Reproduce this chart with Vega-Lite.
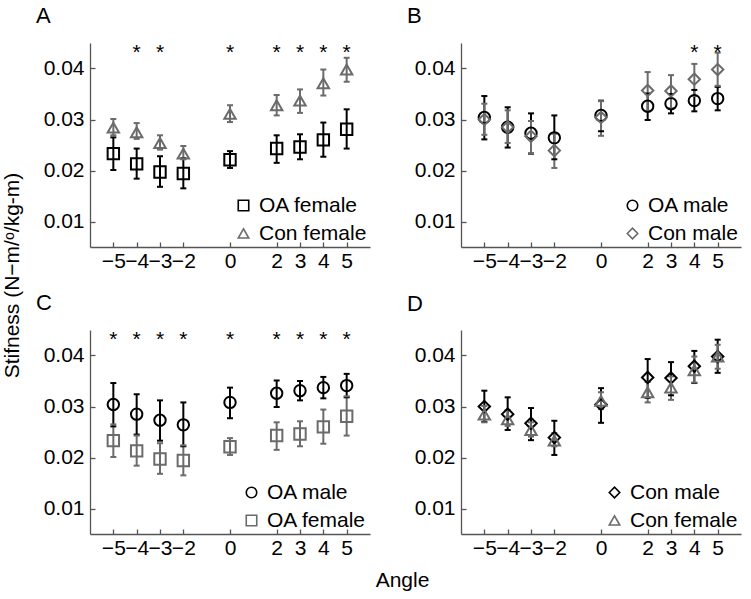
{
  "$schema": "https://vega.github.io/schema/vega-lite/v6.json",
  "padding": {"left": 1, "top": 5, "right": 5, "bottom": 5},
  "background": "white",
  "config": {
    "font": "Liberation Sans",
    "view": {"stroke": null},
    "axis": {
      "grid": false,
      "domainColor": "#555555",
      "tickColor": "#555555",
      "domainWidth": 1.3,
      "tickWidth": 1.3,
      "tickSize": -5,
      "labelFont": "Liberation Sans",
      "labelFontSize": 21,
      "labelColor": "#000000",
      "titleFont": "Liberation Sans",
      "titleFontSize": 21,
      "titleFontWeight": "normal",
      "titleColor": "#000000"
    },
    "axisX": {"labelPadding": 8, "labelOverlap": false, "labelFlush": false},
    "axisY": {"labelPadding": 11, "labelOverlap": false},
    "legend": {
      "orient": "bottom-right",
      "offset": 3,
      "padding": 0,
      "labelFont": "Liberation Sans",
      "labelFontSize": 21,
      "labelColor": "#000000",
      "labelOffset": 5,
      "symbolStrokeWidth": 1.6,
      "symbolSize": 110,
      "rowPadding": 6
    },
    "title": {"fontSize": 22, "fontWeight": "normal", "anchor": "start", "frame": "group", "offset": 14, "color": "#000000", "font": "Liberation Sans"}
  },
  "datasets": {
    "stiff": [
      {"group": "OA male", "angle": -5, "mean": 0.0304, "lo": 0.0261, "hi": 0.0346},
      {"group": "OA male", "angle": -4, "mean": 0.0285, "lo": 0.0245, "hi": 0.0324},
      {"group": "OA male", "angle": -3, "mean": 0.0273, "lo": 0.0233, "hi": 0.0312},
      {"group": "OA male", "angle": -2, "mean": 0.0264, "lo": 0.0222, "hi": 0.0308},
      {"group": "OA male", "angle": 0, "mean": 0.0308, "lo": 0.0277, "hi": 0.0337},
      {"group": "OA male", "angle": 2, "mean": 0.0326, "lo": 0.0299, "hi": 0.0351},
      {"group": "OA male", "angle": 3, "mean": 0.0331, "lo": 0.0312, "hi": 0.0350},
      {"group": "OA male", "angle": 4, "mean": 0.0337, "lo": 0.0316, "hi": 0.0358},
      {"group": "OA male", "angle": 5, "mean": 0.0341, "lo": 0.0318, "hi": 0.0364},
      {"group": "Con male", "angle": -5, "mean": 0.0300, "lo": 0.0270, "hi": 0.0331},
      {"group": "Con male", "angle": -4, "mean": 0.0285, "lo": 0.0254, "hi": 0.0318},
      {"group": "Con male", "angle": -3, "mean": 0.0267, "lo": 0.0234, "hi": 0.0297},
      {"group": "Con male", "angle": -2, "mean": 0.0239, "lo": 0.0205, "hi": 0.0272},
      {"group": "Con male", "angle": 0, "mean": 0.0304, "lo": 0.0268, "hi": 0.0336},
      {"group": "Con male", "angle": 2, "mean": 0.0357, "lo": 0.0317, "hi": 0.0393},
      {"group": "Con male", "angle": 3, "mean": 0.0356, "lo": 0.0322, "hi": 0.0387},
      {"group": "Con male", "angle": 4, "mean": 0.0379, "lo": 0.0346, "hi": 0.0409},
      {"group": "Con male", "angle": 5, "mean": 0.0398, "lo": 0.0366, "hi": 0.0431},
      {"group": "OA female", "angle": -5, "mean": 0.0233, "lo": 0.0201, "hi": 0.0265},
      {"group": "OA female", "angle": -4, "mean": 0.0213, "lo": 0.0184, "hi": 0.0243},
      {"group": "OA female", "angle": -3, "mean": 0.0197, "lo": 0.0168, "hi": 0.0228},
      {"group": "OA female", "angle": -2, "mean": 0.0194, "lo": 0.0165, "hi": 0.0224},
      {"group": "OA female", "angle": 0, "mean": 0.0221, "lo": 0.0205, "hi": 0.0238},
      {"group": "OA female", "angle": 2, "mean": 0.0243, "lo": 0.0215, "hi": 0.0269},
      {"group": "OA female", "angle": 3, "mean": 0.0246, "lo": 0.0222, "hi": 0.0271},
      {"group": "OA female", "angle": 4, "mean": 0.0260, "lo": 0.0227, "hi": 0.0294},
      {"group": "OA female", "angle": 5, "mean": 0.0281, "lo": 0.0243, "hi": 0.0320},
      {"group": "Con female", "angle": -5, "mean": 0.0284, "lo": 0.0269, "hi": 0.0301},
      {"group": "Con female", "angle": -4, "mean": 0.0275, "lo": 0.0262, "hi": 0.0293},
      {"group": "Con female", "angle": -3, "mean": 0.0254, "lo": 0.0241, "hi": 0.0269},
      {"group": "Con female", "angle": -2, "mean": 0.0233, "lo": 0.0222, "hi": 0.0248},
      {"group": "Con female", "angle": 0, "mean": 0.0311, "lo": 0.0295, "hi": 0.0328},
      {"group": "Con female", "angle": 2, "mean": 0.0328, "lo": 0.0308, "hi": 0.0348},
      {"group": "Con female", "angle": 3, "mean": 0.0337, "lo": 0.0313, "hi": 0.0359},
      {"group": "Con female", "angle": 4, "mean": 0.0371, "lo": 0.0347, "hi": 0.0398},
      {"group": "Con female", "angle": 5, "mean": 0.0398, "lo": 0.0374, "hi": 0.0421}
    ],
    "stars": [
      {"panel": "A", "angle": -4}, {"panel": "A", "angle": -3}, {"panel": "A", "angle": 0},
      {"panel": "A", "angle": 2}, {"panel": "A", "angle": 3}, {"panel": "A", "angle": 4}, {"panel": "A", "angle": 5},
      {"panel": "B", "angle": 4}, {"panel": "B", "angle": 5},
      {"panel": "C", "angle": -5}, {"panel": "C", "angle": -4}, {"panel": "C", "angle": -3}, {"panel": "C", "angle": -2},
      {"panel": "C", "angle": 0}, {"panel": "C", "angle": 2}, {"panel": "C", "angle": 3}, {"panel": "C", "angle": 4}, {"panel": "C", "angle": 5}
    ]
  },
  "bounds": "flush",
  "columns": 2,
  "spacing": {"row": 83, "column": 91},
  "resolve": {
    "scale": {"color": "independent", "shape": "independent", "stroke": "independent", "x": "independent", "y": "independent"},
    "legend": {"color": "independent", "shape": "independent", "stroke": "independent"}
  },
  "concat": [
    {
      "width": 280, "height": 204,
      "title": {"text": "A", "dx": -54},
      "data": {"name": "stiff"},
      "transform": [{"filter": {"field": "group", "oneOf": ["OA female", "Con female"]}}],
      "layer": [
        {
          "mark": {"type": "rule", "strokeWidth": 2},
          "encoding": {
            "x": {"field": "angle", "type": "quantitative", "scale": {"domain": [-6, 6], "nice": false}, "axis": {"title": null, "values": [-5, -4, -3, -2, 0, 2, 3, 4, 5]}},
            "y": {"field": "lo", "type": "quantitative", "scale": {"domain": [0.005, 0.045], "nice": false, "zero": false}, "axis": {"title": "Stifness (N−m/ᵒ/kg-m)", "values": [0.01, 0.02, 0.03, 0.04], "format": ".2f", "titleX": -68, "titleY": 232}},
            "y2": {"field": "hi"},
            "stroke": {"field": "group", "type": "nominal", "scale": {"domain": ["Con female", "OA female"], "range": ["#6b6b6b", "#000000"]}, "legend": null}
          }
        },
        {
          "transform": [{"fold": ["lo", "hi"], "as": ["end", "val"]}],
          "mark": {"type": "point", "shape": "stroke", "filled": false, "size": 36, "strokeWidth": 2, "opacity": 1},
          "encoding": {
            "x": {"field": "angle", "type": "quantitative", "scale": {"domain": [-6, 6], "nice": false}, "axis": {"title": null, "values": [-5, -4, -3, -2, 0, 2, 3, 4, 5]}},
            "y": {"field": "val", "type": "quantitative", "scale": {"domain": [0.005, 0.045], "nice": false, "zero": false}, "axis": {"title": "Stifness (N−m/ᵒ/kg-m)", "values": [0.01, 0.02, 0.03, 0.04], "format": ".2f", "titleX": -68, "titleY": 232}},
            "stroke": {"field": "group", "type": "nominal", "scale": {"domain": ["Con female", "OA female"], "range": ["#6b6b6b", "#000000"]}, "legend": null}
          }
        },
        {
          "mark": {"type": "point", "filled": false, "strokeWidth": 2, "size": 130, "opacity": 1},
          "encoding": {
            "x": {"field": "angle", "type": "quantitative", "scale": {"domain": [-6, 6], "nice": false}, "axis": {"title": null, "values": [-5, -4, -3, -2, 0, 2, 3, 4, 5]}},
            "y": {"field": "mean", "type": "quantitative", "scale": {"domain": [0.005, 0.045], "nice": false, "zero": false}, "axis": {"title": "Stifness (N−m/ᵒ/kg-m)", "values": [0.01, 0.02, 0.03, 0.04], "format": ".2f", "titleX": -68, "titleY": 232}},
            "color": {"field": "group", "type": "nominal", "scale": {"domain": ["OA female", "Con female"], "range": ["#000000", "#6b6b6b"]}, "legend": {"title": null}},
            "shape": {"field": "group", "type": "nominal", "scale": {"domain": ["OA female", "Con female"], "range": ["square", "triangle-up"]}, "legend": {"title": null}}
          }
        },
        {
          "data": {"name": "stars"},
          "transform": [{"filter": {"field": "panel", "equal": "A"}}],
          "mark": {"type": "text", "text": "*", "fontSize": 21, "baseline": "middle", "align": "center", "color": "#000000"},
          "encoding": {
            "x": {"field": "angle", "type": "quantitative", "scale": {"domain": [-6, 6], "nice": false}, "axis": {"title": null, "values": [-5, -4, -3, -2, 0, 2, 3, 4, 5]}},
            "y": {"datum": 0.043, "type": "quantitative", "axis": {"title": "Stifness (N−m/ᵒ/kg-m)", "values": [0.01, 0.02, 0.03, 0.04], "format": ".2f", "titleX": -68, "titleY": 232}}
          }
        }
      ]
    },
    {
      "width": 280, "height": 204,
      "title": {"text": "B", "dx": -54},
      "data": {"name": "stiff"},
      "transform": [{"filter": {"field": "group", "oneOf": ["OA male", "Con male"]}}],
      "layer": [
        {
          "mark": {"type": "rule", "strokeWidth": 2},
          "encoding": {
            "x": {"field": "angle", "type": "quantitative", "scale": {"domain": [-6, 6], "nice": false}, "axis": {"title": null, "values": [-5, -4, -3, -2, 0, 2, 3, 4, 5]}},
            "y": {"field": "lo", "type": "quantitative", "scale": {"domain": [0.005, 0.045], "nice": false, "zero": false}, "axis": {"title": null, "values": [0.01, 0.02, 0.03, 0.04], "format": ".2f"}},
            "y2": {"field": "hi"},
            "stroke": {"field": "group", "type": "nominal", "scale": {"domain": ["Con male", "OA male"], "range": ["#6b6b6b", "#000000"]}, "legend": null}
          }
        },
        {
          "transform": [{"fold": ["lo", "hi"], "as": ["end", "val"]}],
          "mark": {"type": "point", "shape": "stroke", "filled": false, "size": 36, "strokeWidth": 2, "opacity": 1},
          "encoding": {
            "x": {"field": "angle", "type": "quantitative", "scale": {"domain": [-6, 6], "nice": false}, "axis": {"title": null, "values": [-5, -4, -3, -2, 0, 2, 3, 4, 5]}},
            "y": {"field": "val", "type": "quantitative", "scale": {"domain": [0.005, 0.045], "nice": false, "zero": false}, "axis": {"title": null, "values": [0.01, 0.02, 0.03, 0.04], "format": ".2f"}},
            "stroke": {"field": "group", "type": "nominal", "scale": {"domain": ["Con male", "OA male"], "range": ["#6b6b6b", "#000000"]}, "legend": null}
          }
        },
        {
          "mark": {"type": "point", "filled": false, "strokeWidth": 2, "size": 130, "opacity": 1},
          "encoding": {
            "x": {"field": "angle", "type": "quantitative", "scale": {"domain": [-6, 6], "nice": false}, "axis": {"title": null, "values": [-5, -4, -3, -2, 0, 2, 3, 4, 5]}},
            "y": {"field": "mean", "type": "quantitative", "scale": {"domain": [0.005, 0.045], "nice": false, "zero": false}, "axis": {"title": null, "values": [0.01, 0.02, 0.03, 0.04], "format": ".2f"}},
            "color": {"field": "group", "type": "nominal", "scale": {"domain": ["OA male", "Con male"], "range": ["#000000", "#6b6b6b"]}, "legend": {"title": null}},
            "shape": {"field": "group", "type": "nominal", "scale": {"domain": ["OA male", "Con male"], "range": ["circle", "diamond"]}, "legend": {"title": null}}
          }
        },
        {
          "data": {"name": "stars"},
          "transform": [{"filter": {"field": "panel", "equal": "B"}}],
          "mark": {"type": "text", "text": "*", "fontSize": 21, "baseline": "middle", "align": "center", "color": "#000000"},
          "encoding": {
            "x": {"field": "angle", "type": "quantitative", "scale": {"domain": [-6, 6], "nice": false}, "axis": {"title": null, "values": [-5, -4, -3, -2, 0, 2, 3, 4, 5]}},
            "y": {"datum": 0.043, "type": "quantitative", "axis": {"title": null, "values": [0.01, 0.02, 0.03, 0.04], "format": ".2f"}}
          }
        }
      ]
    },
    {
      "width": 280, "height": 204,
      "title": {"text": "C", "dx": -54},
      "data": {"name": "stiff"},
      "transform": [{"filter": {"field": "group", "oneOf": ["OA male", "OA female"]}}],
      "layer": [
        {
          "mark": {"type": "rule", "strokeWidth": 2},
          "encoding": {
            "x": {"field": "angle", "type": "quantitative", "scale": {"domain": [-6, 6], "nice": false}, "axis": {"title": "Angle", "values": [-5, -4, -3, -2, 0, 2, 3, 4, 5], "titleX": 312, "titleY": 52, "titleBaseline": "alphabetic"}},
            "y": {"field": "lo", "type": "quantitative", "scale": {"domain": [0.005, 0.045], "nice": false, "zero": false}, "axis": {"title": null, "values": [0.01, 0.02, 0.03, 0.04], "format": ".2f"}},
            "y2": {"field": "hi"},
            "stroke": {"field": "group", "type": "nominal", "scale": {"domain": ["OA female", "OA male"], "range": ["#6b6b6b", "#000000"]}, "legend": null}
          }
        },
        {
          "transform": [{"fold": ["lo", "hi"], "as": ["end", "val"]}],
          "mark": {"type": "point", "shape": "stroke", "filled": false, "size": 36, "strokeWidth": 2, "opacity": 1},
          "encoding": {
            "x": {"field": "angle", "type": "quantitative", "scale": {"domain": [-6, 6], "nice": false}, "axis": {"title": "Angle", "values": [-5, -4, -3, -2, 0, 2, 3, 4, 5], "titleX": 312, "titleY": 52, "titleBaseline": "alphabetic"}},
            "y": {"field": "val", "type": "quantitative", "scale": {"domain": [0.005, 0.045], "nice": false, "zero": false}, "axis": {"title": null, "values": [0.01, 0.02, 0.03, 0.04], "format": ".2f"}},
            "stroke": {"field": "group", "type": "nominal", "scale": {"domain": ["OA female", "OA male"], "range": ["#6b6b6b", "#000000"]}, "legend": null}
          }
        },
        {
          "mark": {"type": "point", "filled": false, "strokeWidth": 2, "size": 130, "opacity": 1},
          "encoding": {
            "x": {"field": "angle", "type": "quantitative", "scale": {"domain": [-6, 6], "nice": false}, "axis": {"title": "Angle", "values": [-5, -4, -3, -2, 0, 2, 3, 4, 5], "titleX": 312, "titleY": 52, "titleBaseline": "alphabetic"}},
            "y": {"field": "mean", "type": "quantitative", "scale": {"domain": [0.005, 0.045], "nice": false, "zero": false}, "axis": {"title": null, "values": [0.01, 0.02, 0.03, 0.04], "format": ".2f"}},
            "color": {"field": "group", "type": "nominal", "scale": {"domain": ["OA male", "OA female"], "range": ["#000000", "#6b6b6b"]}, "legend": {"title": null}},
            "shape": {"field": "group", "type": "nominal", "scale": {"domain": ["OA male", "OA female"], "range": ["circle", "square"]}, "legend": {"title": null}}
          }
        },
        {
          "data": {"name": "stars"},
          "transform": [{"filter": {"field": "panel", "equal": "C"}}],
          "mark": {"type": "text", "text": "*", "fontSize": 21, "baseline": "middle", "align": "center", "color": "#000000"},
          "encoding": {
            "x": {"field": "angle", "type": "quantitative", "scale": {"domain": [-6, 6], "nice": false}, "axis": {"title": "Angle", "values": [-5, -4, -3, -2, 0, 2, 3, 4, 5], "titleX": 312, "titleY": 52, "titleBaseline": "alphabetic"}},
            "y": {"datum": 0.043, "type": "quantitative", "axis": {"title": null, "values": [0.01, 0.02, 0.03, 0.04], "format": ".2f"}}
          }
        }
      ]
    },
    {
      "width": 280, "height": 204,
      "title": {"text": "D", "dx": -54},
      "data": {"name": "stiff"},
      "transform": [{"filter": {"field": "group", "oneOf": ["Con male", "Con female"]}}],
      "layer": [
        {
          "mark": {"type": "rule", "strokeWidth": 2},
          "encoding": {
            "x": {"field": "angle", "type": "quantitative", "scale": {"domain": [-6, 6], "nice": false}, "axis": {"title": null, "values": [-5, -4, -3, -2, 0, 2, 3, 4, 5]}},
            "y": {"field": "lo", "type": "quantitative", "scale": {"domain": [0.005, 0.045], "nice": false, "zero": false}, "axis": {"title": null, "values": [0.01, 0.02, 0.03, 0.04], "format": ".2f"}},
            "y2": {"field": "hi"},
            "stroke": {"field": "group", "type": "nominal", "scale": {"domain": ["Con female", "Con male"], "range": ["#6b6b6b", "#000000"]}, "legend": null}
          }
        },
        {
          "transform": [{"fold": ["lo", "hi"], "as": ["end", "val"]}],
          "mark": {"type": "point", "shape": "stroke", "filled": false, "size": 36, "strokeWidth": 2, "opacity": 1},
          "encoding": {
            "x": {"field": "angle", "type": "quantitative", "scale": {"domain": [-6, 6], "nice": false}, "axis": {"title": null, "values": [-5, -4, -3, -2, 0, 2, 3, 4, 5]}},
            "y": {"field": "val", "type": "quantitative", "scale": {"domain": [0.005, 0.045], "nice": false, "zero": false}, "axis": {"title": null, "values": [0.01, 0.02, 0.03, 0.04], "format": ".2f"}},
            "stroke": {"field": "group", "type": "nominal", "scale": {"domain": ["Con female", "Con male"], "range": ["#6b6b6b", "#000000"]}, "legend": null}
          }
        },
        {
          "mark": {"type": "point", "filled": false, "strokeWidth": 2, "size": 130, "opacity": 1},
          "encoding": {
            "x": {"field": "angle", "type": "quantitative", "scale": {"domain": [-6, 6], "nice": false}, "axis": {"title": null, "values": [-5, -4, -3, -2, 0, 2, 3, 4, 5]}},
            "y": {"field": "mean", "type": "quantitative", "scale": {"domain": [0.005, 0.045], "nice": false, "zero": false}, "axis": {"title": null, "values": [0.01, 0.02, 0.03, 0.04], "format": ".2f"}},
            "color": {"field": "group", "type": "nominal", "scale": {"domain": ["Con male", "Con female"], "range": ["#000000", "#6b6b6b"]}, "legend": {"title": null}},
            "shape": {"field": "group", "type": "nominal", "scale": {"domain": ["Con male", "Con female"], "range": ["diamond", "triangle-up"]}, "legend": {"title": null}}
          }
        }
      ]
    }
  ]
}
